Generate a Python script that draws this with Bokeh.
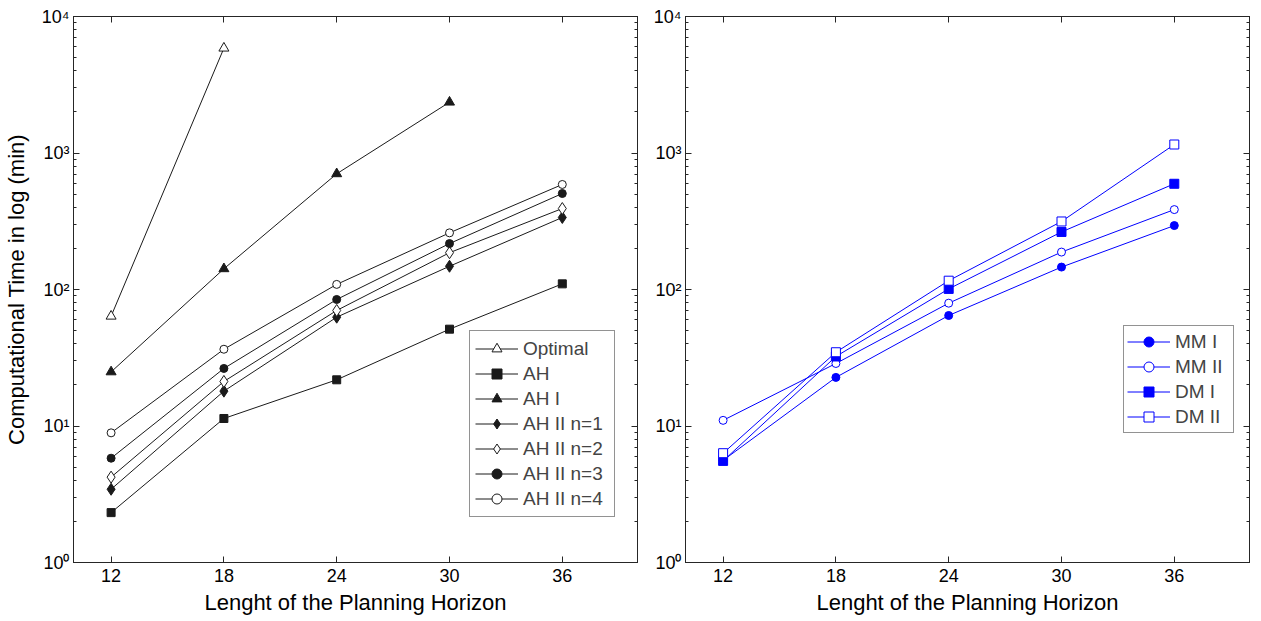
from bokeh.plotting import figure
from bokeh.layouts import row
from bokeh.models import LogAxis, LinearAxis, Legend, LegendItem, FixedTicker, LogTicker
from bokeh.embed import file_html
from bokeh.resources import INLINE

horizon = [12, 18, 24, 30, 36]

optimal = [63.7, 5860]
ah = [2.32, 11.35, 21.8, 51.2, 110]
ah_i = [24.9, 141.8, 704, 2356]
ah_ii_n1 = [3.44, 18.0, 62.7, 148, 337]
ah_ii_n2 = [4.22, 21.2, 70.2, 186, 392]
ah_ii_n3 = [5.81, 26.4, 84.5, 217, 505]
ah_ii_n4 = [8.91, 36.5, 109, 260, 588]

mm_i = [5.6, 22.7, 64.5, 146, 294]
mm_ii = [11.0, 28.7, 79.4, 188, 385]
dm_i = [5.55, 32.3, 101, 264, 595]
dm_ii = [6.32, 34.7, 116, 315, 1154]

y_ticks = [1, 10, 100, 1000, 10000]
y_tick_labels = ["10\u2070", "10\u00b9", "10\u00b2", "10\u00b3", "10\u2074"]
x_label = "Lenght of the Planning Horizon"
y_label = "Computational Time in log (min)"

FONT = "Liberation Sans"
AX = "#262626"


def style_ticks(ax):
    ax.major_tick_in = 6
    ax.major_tick_out = 0
    ax.minor_tick_in = 3
    ax.minor_tick_out = 0
    ax.axis_line_color = AX
    ax.major_tick_line_color = AX
    ax.minor_tick_line_color = AX


def make_fig(with_ylabel, b_left, b_right):
    p = figure(
        y_axis_type="log",
        x_range=(10, 40),
        y_range=(1, 10000),
        frame_width=564,
        frame_height=546,
        min_border_left=b_left,
        min_border_right=b_right,
        min_border_top=16,
        min_border_bottom=0,
        output_backend="svg",
        toolbar_location=None,
    )
    p.xgrid.visible = False
    p.ygrid.visible = False
    p.outline_line_color = AX
    p.outline_line_width = 1
    p.background_fill_color = "white"
    p.border_fill_color = "white"

    xa = p.xaxis[0]
    xa.ticker = FixedTicker(ticks=horizon)
    ya = p.yaxis[0]
    ya.ticker = LogTicker(desired_num_ticks=5, num_minor_ticks=10)
    ya.major_label_overrides = {t: l for t, l in zip(y_ticks, y_tick_labels)}
    for ax in (xa, ya):
        style_ticks(ax)
        ax.major_label_text_font = FONT
        ax.major_label_text_font_size = "18px"
        ax.major_label_text_color = "black"
        ax.axis_label_text_font = FONT
        ax.axis_label_text_font_size = "22px"
        ax.axis_label_text_font_style = "normal"
        ax.axis_label_text_color = "black"
    xa.minor_tick_line_color = None
    xa.axis_label = x_label
    xa.major_label_standoff = 6
    xa.axis_label_standoff = 5
    ya.major_label_standoff = 4
    if with_ylabel:
        ya.axis_label = y_label
        ya.axis_label_standoff = 10

    top = LinearAxis(ticker=FixedTicker(ticks=horizon))
    right = LogAxis(ticker=LogTicker(desired_num_ticks=5, num_minor_ticks=10))
    for ax in (top, right):
        style_ticks(ax)
        ax.major_label_text_font_size = "2px"
        ax.major_label_text_color = None
        ax.major_label_standoff = 0
    top.minor_tick_line_color = None
    p.add_layout(top, "above")
    p.add_layout(right, "right")
    return p


def make_legend(items, loc, pad, lw):
    return Legend(
        items=items,
        location=loc,
        label_text_font=FONT,
        label_text_font_size="19px",
        label_height=25,
        glyph_height=25,
        glyph_width=43,
        label_width=lw,
        spacing=0,
        padding=pad,
        margin=0,
        label_standoff=5,
        border_line_color=AX,
        border_line_width=1,
        background_fill_color="white",
        background_fill_alpha=1,
    )


# ---------- left panel ----------
p1 = make_fig(True, 73, 12)
K = "#1a1a1a"
series_left = [
    ("Optimal", horizon[:2], optimal, "triangle", 10, "white"),
    ("AH", horizon, ah, "square", 8, K),
    ("AH I", horizon[:4], ah_i, "triangle", 10, K),
    ("AH II n=1", horizon, ah_ii_n1, "diamond", 12, K),
    ("AH II n=2", horizon, ah_ii_n2, "diamond", 12, "white"),
    ("AH II n=3", horizon, ah_ii_n3, "circle", 8, K),
    ("AH II n=4", horizon, ah_ii_n4, "circle", 8, "white"),
]
items = []
for name, xs, ys, marker, size, fill in series_left:
    l = p1.line(xs, ys, line_color=K, line_width=1)
    s = p1.scatter(xs, ys, marker=marker, size=size, line_color=K, fill_color=fill, line_width=1)
    items.append(LegendItem(label=name, renderers=[l, s]))
p1.add_layout(make_legend(items, (396, 45), 5, 86))

# ---------- right panel ----------
p2 = make_fig(False, 36, 4)
B = "blue"
series_right = [
    ("MM I", mm_i, "circle", 8, B),
    ("MM II", mm_ii, "circle", 8, "white"),
    ("DM I", dm_i, "square", 9, B),
    ("DM II", dm_ii, "square", 9, "white"),
]
items2 = []
for name, ys, marker, size, fill in series_right:
    l = p2.line(horizon, ys, line_color=B, line_width=1)
    s = p2.scatter(horizon, ys, marker=marker, size=size, line_color=B, fill_color=fill, line_width=1)
    items2.append(LegendItem(label=name, renderers=[l, s]))
p2.add_layout(make_legend(items2, (438, 129), 3, 55))

layout = row(p1, p2, spacing=0)
open("out.html", "w").write(file_html(layout, INLINE))
